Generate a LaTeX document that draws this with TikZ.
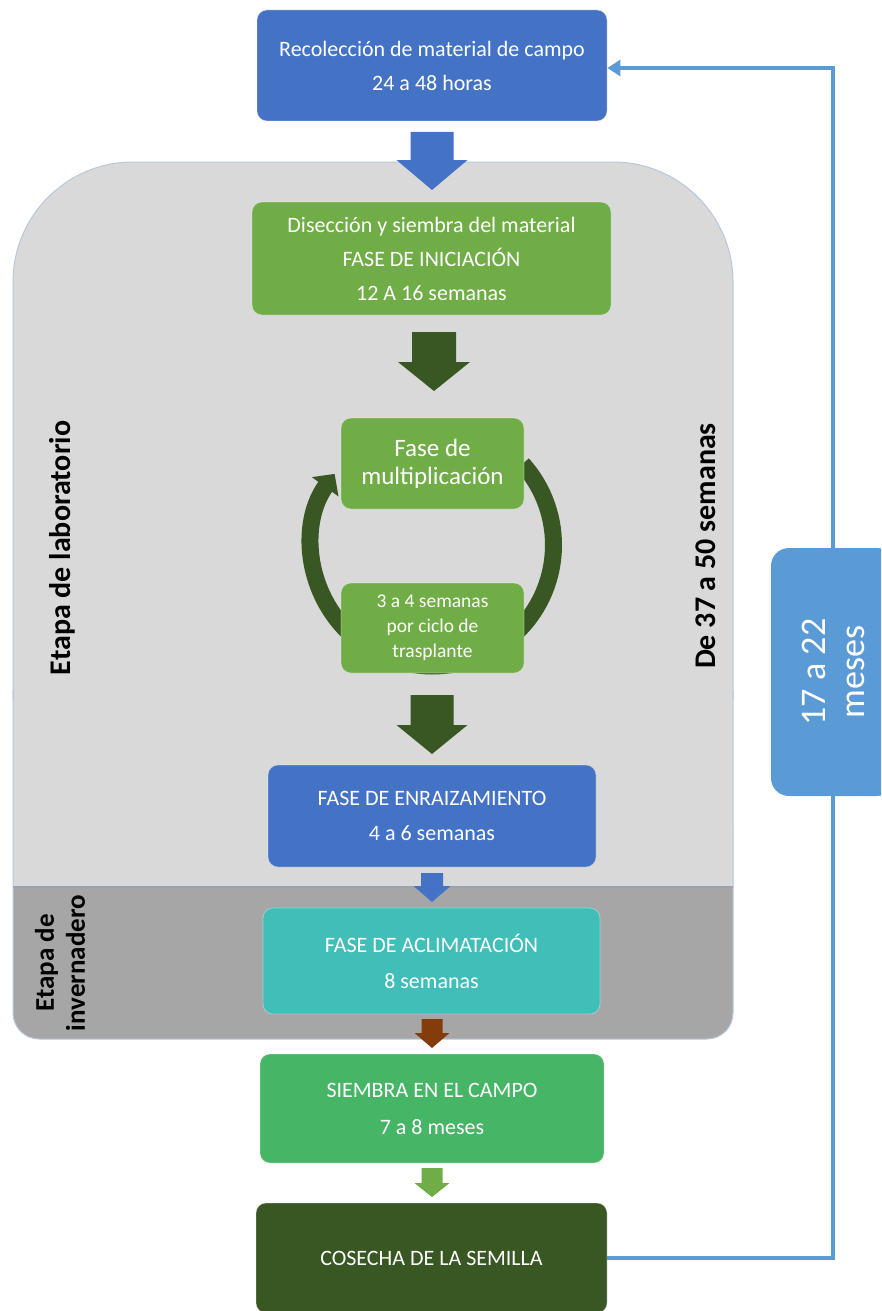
\documentclass[tikz,border=0pt]{standalone}
\usepackage{fontspec}
\setmainfont{Carlito}
\usetikzlibrary{arrows.meta}
\definecolor{cblue}{HTML}{4472C4}
\definecolor{cgreen}{HTML}{70AD47}
\definecolor{cdark}{HTML}{385723}
\definecolor{cteal}{HTML}{41BEB8}
\definecolor{cfield}{HTML}{47B566}
\definecolor{cbrown}{HTML}{843C0C}
\definecolor{cret}{HTML}{5B9BD5}
\definecolor{panelL}{HTML}{D9D9D9}
\definecolor{panelD}{HTML}{A6A6A6}
\definecolor{panelB}{HTML}{B9C8D8}
\definecolor{sepline}{HTML}{98A4B3}
\newcommand{\blockdown}[7]{%
  \fill[#1] (#2-#6,#3) -- (#2+#6,#3) -- (#2+#6,#4) -- (#2+#7,#4) -- (#2,#5) -- (#2-#7,#4) -- (#2-#6,#4) -- cycle;}
\tikzset{
  box/.style={rounded corners=10pt, text=white, align=center, inner sep=0pt,
    draw=white, draw opacity=0.35, line width=0.8pt,
    font=\fontsize{22}{34}\selectfont},
  lab/.style={text=black, align=center, inner sep=0pt,
    font=\fontsize{30}{36}\selectfont\bfseries},
  ret/.style={draw=cret, line width=4pt, -{Triangle[length=13pt,width=16pt]}},
  cyc/.style={draw=cdark, line width=17pt, -{Triangle[length=16pt,width=32pt]}},
}
\begin{document}
\begin{tikzpicture}[x=1pt,y=-1pt]
\useasboundingbox (0,0) rectangle (881,1311);
\clip (0,0) rectangle (881,1311);
% panel
\fill[panelD, rounded corners=26pt] (13,800) rectangle (733,1039);
\fill[panelL, rounded corners=120pt] (13,162) rectangle (733,700);
\fill[panelL] (13,400) rectangle (733,887);
\draw[panelB, line width=1pt, rounded corners=120pt] (13,700) -- (13,162) -- (733,162) -- (733,700);
\draw[panelB, line width=1pt, rounded corners=26pt] (13,690) -- (13,1039) -- (733,1039) -- (733,690);
\draw[draw=sepline, line width=1.5pt] (13,887) -- (733,887);
% side labels
\node[lab, rotate=90] (lablab) at (62,548) {Etapa de laboratorio};
\node[lab, rotate=90] (labsem) at (706,546) {De 37 a 50 semanas};
\node[lab, rotate=90, font=\fontsize{27}{31}\selectfont\bfseries] (labinv) at (60,963) {Etapa de\\invernadero};
% cycle arc
\coordinate (cc) at (432.5,545);
\draw[cyc] (cc) ++(-42:121) arc[start angle=-42, end angle=216, radius=121];
% boxes
\node[box, fill=cblue, minimum width=350pt, minimum height=111pt] (rec) at (432,65.5) {Recolección de material de campo\\24 a 48 horas};
\node[box, fill=cgreen, minimum width=359pt, minimum height=113pt] (dis) at (431.5,258.5) {Disección y siembra del material\\FASE DE INICIACIÓN\\12 A 16 semanas};
\node[box, fill=cgreen, minimum width=183pt, minimum height=91pt, font=\fontsize{25}{28}\selectfont] (mul) at (432.5,463.5) {Fase de\\multiplicación};
\node[box, fill=cgreen, minimum width=183pt, minimum height=90pt, font=\fontsize{19.5}{25}\selectfont] (cic) at (432.5,628) {3 a 4 semanas\\por ciclo de\\trasplante};
\node[box, fill=cblue, minimum width=328pt, minimum height=102pt, font=\fontsize{22}{35}\selectfont] (enr) at (432,816) {FASE DE ENRAIZAMIENTO\\4 a 6 semanas};
\node[box, fill=cteal, minimum width=337pt, minimum height=106pt, font=\fontsize{22}{36}\selectfont] (acl) at (431.5,961) {FASE DE ACLIMATACIÓN\\8 semanas};
\node[box, fill=cfield, minimum width=344pt, minimum height=109pt, font=\fontsize{22}{37}\selectfont] (sie) at (432,1108.5) {SIEMBRA EN EL CAMPO\\7 a 8 meses};
\node[box, fill=cdark, minimum width=351pt, minimum height=110pt] (cos) at (431.5,1258) {COSECHA DE LA SEMILLA};
% block arrows
\blockdown{cblue}{432}{132}{160}{190}{21.5}{35.5}
\blockdown{cdark}{434}{332}{362}{391}{22}{36}
\blockdown{cdark}{432}{695}{725}{754}{21.5}{35.5}
\blockdown{cblue}{432}{873}{886}{902}{11}{18.5}
\blockdown{cbrown}{432}{1019}{1033}{1048}{10.5}{17.5}
\blockdown{cgreen}{432}{1168}{1183}{1197}{10.5}{17.5}
% return line
\coordinate (c2) at (833,68);
\draw[ret] (cos.east) -| (c2) -- (rec.east |- c2);
\node[box, fill=cret, draw=none, rotate=90, minimum width=248pt, minimum height=124pt, rounded corners=18pt, font=\fontsize{36}{39}\selectfont] (mes) at (833,672) {17 a 22\\meses};
\end{tikzpicture}
\end{document}
